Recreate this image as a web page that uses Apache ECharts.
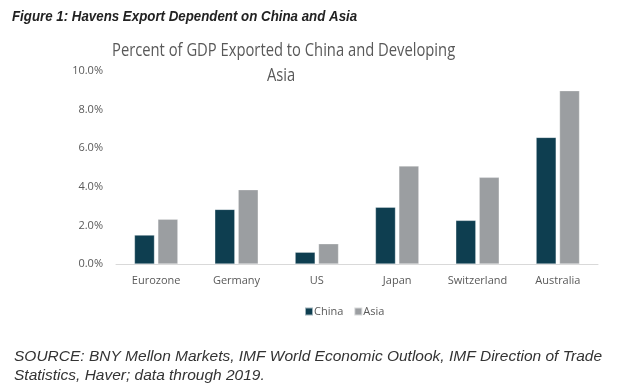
<!DOCTYPE html>
<html>
<head>
<meta charset="utf-8">
<script src="https://cdn.jsdelivr.net/npm/echarts@6/dist/echarts.min.js"></script>
<style>html,body{margin:0;padding:0;background:#fff;}#c{width:624px;height:391px;}</style>
</head>
<body>
<div id="c"></div>
<script>
const categories = ['Eurozone', 'Germany', 'US', 'Japan', 'Switzerland', 'Australia'];
const chinaValues = [1.50, 2.83, 0.61, 2.94, 2.26, 6.56];
const asiaValues = [2.32, 3.85, 1.05, 5.08, 4.49, 8.98];
const seriesNames = ['China', 'Asia'];
const yTicks = { min: 0, max: 10, interval: 2 };

const chart = echarts.init(document.getElementById('c'));
chart.setOption({
  backgroundColor: '#fff',
  animation: false,
  graphic: [
    { type: 'text', x: 12, y: 10, scaleX: 0.95, originX: 0, originY: 0,
      style: { text: 'Figure 1: Havens Export Dependent on China and Asia', font: 'italic bold 14px "Liberation Sans", Arial', fill: '#222' } },
    { type: 'text', x: 112, y: 42, scaleX: 0.82, originX: 0, originY: 0,
      style: { text: 'Percent of GDP Exported to China and Developing', font: '18px "Open Sans"', fill: '#595959' } },
    { type: 'text', x: 267, y: 67, scaleX: 0.82, originX: 0, originY: 0,
      style: { text: 'Asia', font: '18px "Open Sans"', fill: '#595959' } },
    { type: 'text', x: 14, y: 347, style: { text: 'SOURCE: BNY Mellon Markets, IMF World Economic Outlook, IMF Direction of Trade\nStatistics, Haver; data through 2019.', font: 'italic 15.5px "Liberation Sans", Arial', fill: '#333', lineHeight: 19 } }
  ],
  legend: {
    data: seriesNames, left: 299, top: 301, itemWidth: 8, itemHeight: 8, itemGap: 10, icon: 'rect',
    textStyle: { fontFamily: 'Open Sans', fontSize: 11, color: '#595959', padding: [0, 0, 0, -4] }
  },
  grid: { left: 116, right: 26, top: 71, bottom: 127 },
  xAxis: {
    type: 'category', data: categories,
    axisLine: { lineStyle: { color: '#d9d9d9' } },
    axisTick: { show: false },
    axisLabel: { fontFamily: 'Open Sans', fontSize: 11, color: '#595959', margin: 11 }
  },
  yAxis: {
    type: 'value', min: yTicks.min, max: yTicks.max, interval: yTicks.interval,
    splitLine: { show: false },
    axisLine: { show: false }, axisTick: { show: false },
    axisLabel: { fontFamily: 'Open Sans', fontSize: 11, color: '#595959', margin: 13, formatter: v => v.toFixed(1) + '%' }
  },
  series: [
    { name: seriesNames[0], type: 'bar', data: chinaValues, barWidth: 20, barGap: '17%', itemStyle: { color: '#0e3e50', borderColor: 'rgba(255,255,255,0.6)', borderWidth: 0.5 } },
    { name: seriesNames[1], type: 'bar', data: asiaValues, barWidth: 20, itemStyle: { color: '#9b9ea1', borderColor: 'rgba(255,255,255,0.6)', borderWidth: 0.5 } }
  ]
});
</script>
</body>
</html>
